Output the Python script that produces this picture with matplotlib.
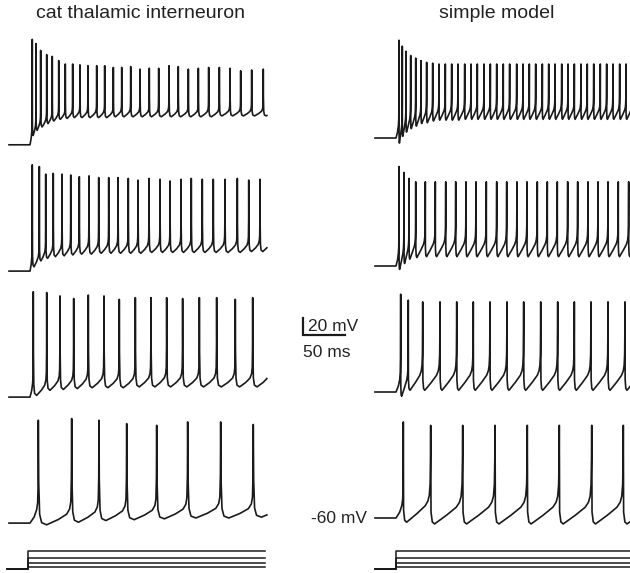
import numpy as np
import matplotlib
matplotlib.use("Agg")
import matplotlib.pyplot as plt

plt.rcParams['font.family'] = ['Liberation Sans', 'DejaVu Sans']

# ---- data ---------------------------------------------------------------
# spike times in ms after current onset, spike peaks and post-spike troughs in mV
# rows go from strongest (top) to weakest (bottom) injected current

cat_rest = [-68, -66, -66, -66]

cat_t1 = [2.7, 7.1, 12.7, 19.9, 26.5, 34.2, 42.0, 50.8, 59.5, 69.0, 79.4, 88.9, 99.2, 109.2,
          119.9, 131.0, 142.0, 153.2, 165.5, 176.5, 188.5, 200.4, 212.7, 225.4, 238.1, 250.8,
          263.9, 277.7]
cat_p1 = [56, 51, 43, 38, 36, 31, 27, 27, 26, 25, 25, 25, 23, 23, 24, 21, 22, 22, 25, 24, 21,
          22, 23, 23, 22, 19, 20, 21]
cat_v1 = [-57, -51, -47, -43, -40, -38, -37, -36, -36, -36, -36, -36, -35, -35, -35, -35, -35,
          -35, -35, -35, -35, -35, -35, -34, -34, -34, -34, -34]

cat_t2 = [2.7, 11.1, 18.7, 27.7, 38.1, 48.5, 58.7, 70.2, 81.8, 93.7, 104.8, 117.0, 128.6, 141.7,
          154.8, 166.7, 179.8, 192.0, 205.1, 218.2, 232.1, 246.8, 260.4, 273.8]
cat_p2 = [59, 57, 48, 49, 48, 47, 45, 46, 44, 44, 44, 43, 41, 43, 42, 40, 42, 43, 42, 42, 42,
          43, 41, 42]
cat_v2 = [-61, -54, -51, -49, -48, -47, -46, -46, -45, -45, -45, -45, -45, -44, -44, -44, -44,
          -44, -44, -44, -44, -44, -43, -43]

cat_t3 = [3.9, 19.9, 35.7, 52.0, 69.4, 88.1, 106.3, 125.4, 144.0, 162.7, 181.7, 201.6, 222.2,
          244.4, 265.1]
cat_p3 = [58, 57, 53, 50, 54, 53, 49, 51, 51, 51, 50, 51, 51, 49, 51]
cat_v3 = [-64, -58, -57, -56, -55, -55, -55, -54, -54, -54, -54, -54, -54, -54, -54]

cat_t4 = [9.9, 49.6, 82.1, 115.1, 150.8, 187.7, 227.0, 265.8]
cat_p4 = [55, 57, 55, 51, 49, 53, 53, 50]
cat_v4 = [-68, -65, -63, -62, -61, -60, -60, -59]

mod_rest = [-60, -60, -60, -60]

mod_t1 = [3.6, 7.5, 11.9, 17.5, 23.5, 29.8, 36.5, 43.7, 51.2, 58.7, 66.3, 73.8, 81.8, 89.3,
          96.8, 104.8, 112.3, 119.9, 127.7, 135.3, 143.7, 151.2, 158.7, 166.3, 174.2, 181.8,
          189.3, 197.3, 204.8, 212.3, 220.2, 227.7, 235.4, 243.2, 250.8, 258.3, 266.3, 273.8,
          281.4, 289.0]
mod_p1 = [55, 48, 42, 37, 34, 31, 29, 28, 27, 27, 27, 27, 27, 27, 27, 27, 27, 27, 27, 27, 27,
          27, 27, 27, 27, 27, 27, 27, 27, 27, 27, 27, 27, 27, 27, 27, 27, 27, 27, 27]
mod_v1 = [-66, -58, -53, -49, -46, -43, -42, -40, -39, -39, -39, -39, -38, -38, -38, -38, -38,
          -38, -38, -38, -38, -38, -38, -38, -38, -38, -38, -38, -38, -38, -38, -38, -38, -38,
          -38, -38, -38, -38, -38, -38]

mod_t2 = [3.6, 9.5, 15.5, 23.5, 34.9, 46.8, 59.2, 71.1, 83.3, 95.2, 107.5, 119.9, 131.8, 144.0,
          155.9, 168.2, 180.1, 192.0, 204.4, 216.3, 228.6, 240.5, 252.4, 264.6, 277.0, 289.3]
mod_p2 = [57, 50, 43, 39, 39, 39, 39, 39, 39, 39, 39, 39, 39, 39, 39, 39, 39, 39, 39, 39, 39,
          39, 39, 39, 39, 39]
mod_v2 = [-64, -57, -52, -50, -49, -49, -49, -49, -49, -49, -49, -49, -49, -49, -49, -49, -49,
          -49, -49, -49, -49, -49, -49, -49, -49, -49]

mod_t3 = [5.6, 14.6, 31.8, 52.4, 72.3, 92.0, 111.9, 132.1, 152.0, 172.3, 192.5, 212.3, 232.1,
          252.4, 272.6, 292.5]
mod_p3 = [55, 48, 46, 46, 46, 46, 46, 46, 46, 46, 46, 46, 46, 46, 46, 46]
mod_v3 = [-65, -58, -58, -58, -58, -58, -58, -58, -58, -58, -58, -58, -58, -58, -58, -58]

mod_t4 = [8.7, 41.3, 79.4, 117.9, 156.3, 194.4, 233.0, 270.6]
mod_p4 = [53, 49, 49, 49, 49, 49, 49, 49]
mod_v4 = [-65, -67, -67, -67, -67, -67, -67, -67]

# injected current steps (nA), same four levels for both columns
stim_levels = [0.40, 0.25, 0.13, 0.06]

titles = ["cat thalamic interneuron", "simple model"]

# waveform between two spikes: fraction of the interval -> fraction of trough..peak
cat_shape = ([0, 0.012, 0.04, 0.1, 0.25, 0.6, 0.85, 0.94, 0.975, 0.992, 1],
             [1, 0.4, 0.1, 0.02, 0, 0.05, 0.1, 0.15, 0.22, 0.45, 1])
mod_shape = ([0, 0.01, 0.05, 0.12, 0.5, 0.8, 0.9, 0.95, 0.98, 0.995, 1],
             [1, 0.12, 0.02, 0, 0.09, 0.17, 0.22, 0.28, 0.4, 0.7, 1])
onset_shape = ([0, 0.5, 0.8, 0.92, 0.97, 1], [0, 0.06, 0.13, 0.2, 0.35, 1])


def build_trace(rest, spikes, peaks, troughs, shape, t_end):
    cu, cw = np.array(shape[0]), np.array(shape[1])
    ou, ow = np.array(onset_shape[0]), np.array(onset_shape[1])
    t = [np.array([-25.0]), spikes[0] * ou]
    v = [np.array([rest]), rest + ow * (peaks[0] - rest)]
    nxt_t = list(spikes[1:]) + [2 * spikes[-1] - spikes[-2]]
    nxt_p = list(peaks[1:]) + [peaks[-1]]
    for i in range(len(spikes)):
        top = np.where(cu < 0.5, peaks[i], nxt_p[i])
        t.append(spikes[i] + cu[1:] * (nxt_t[i] - spikes[i]))
        v.append((troughs[i] + cw * (top - troughs[i]))[1:])
    t = np.concatenate(t)
    v = np.concatenate(v)
    keep = t <= t_end
    return np.append(t[keep], t_end), np.append(v[keep], np.interp(t_end, t, v))


# ---- layout --------------------------------------------------------------
W, H = 630, 573
PX_MS, PX_MV, PX_NA = 0.84, 0.85, 45.75
col_x0 = [30, 396]           # pixel of current onset
stim_x0 = [28, 396]
row_y = [138, 266, 392, 518]  # pixel of -60 mV in each row
t_lo, t_hi = -30, 300
v_lo, v_hi = -80, 70

fig = plt.figure(figsize=(W / 100, H / 100), dpi=100)


def add_ax(x0, y_ref, ref, ylo, yhi, py):
    left = x0 + t_lo * PX_MS
    width = (t_hi - t_lo) * PX_MS
    top = y_ref - (yhi - ref) * py
    height = (yhi - ylo) * py
    ax = fig.add_axes([left / W, 1 - (top + height) / H, width / W, height / H])
    ax.set_xlim(t_lo, t_hi)
    ax.set_ylim(ylo, yhi)
    ax.axis('off')
    return ax


cat = [(cat_t1, cat_p1, cat_v1), (cat_t2, cat_p2, cat_v2),
       (cat_t3, cat_p3, cat_v3), (cat_t4, cat_p4, cat_v4)]
mod = [(mod_t1, mod_p1, mod_v1), (mod_t2, mod_p2, mod_v2),
       (mod_t3, mod_p3, mod_v3), (mod_t4, mod_p4, mod_v4)]

ink = '#1a1a1a'
axes = {}
for c, (data, rests, shape, t_end) in enumerate([(cat, cat_rest, cat_shape, 282),
                                                 (mod, mod_rest, mod_shape, 300)]):
    for r in range(4):
        ax = add_ax(col_x0[c], row_y[r], -60, v_lo, v_hi, PX_MV)
        sp, pk, tr = data[r]
        t, v = build_trace(rests[r], sp, pk, tr, shape, t_end)
        ax.plot(t, v, color=ink, lw=1.2)
        axes[(c, r)] = ax
    # current steps
    sax = add_ax(stim_x0[c], 569.3, 0, -0.05, 0.45, PX_NA)
    for lev in stim_levels:
        sax.plot([-25, 0, 0, t_end], [0, 0, lev, lev], color=ink, lw=1.1)

# scale bar (in the right-hand third-row axes)
ax = axes[(1, 2)]
ax.plot([-110.7, -110.7, -60.7], [27, 7, 7], color=ink, lw=1.6, clip_on=False,
        solid_joinstyle='miter')
ax.text(-104.5, 17, "20 mV", fontsize=12.5, ha='left', va='center', color='#222222')
ax.text(-111, -13, "50 ms", fontsize=12.5, ha='left', va='center', color='#222222')

# resting potential label
axes[(1, 3)].text(-34, -61, "-60 mV", fontsize=12.5, ha='right', va='center', color='#222222')

fig.text(141 / W, 1 - 14 / H, titles[0], fontsize=14, ha='center', va='center', color='#222222')
fig.text(497 / W, 1 - 14 / H, titles[1], fontsize=14, ha='center', va='center', color='#222222')

fig.savefig("out.png", dpi=100)
